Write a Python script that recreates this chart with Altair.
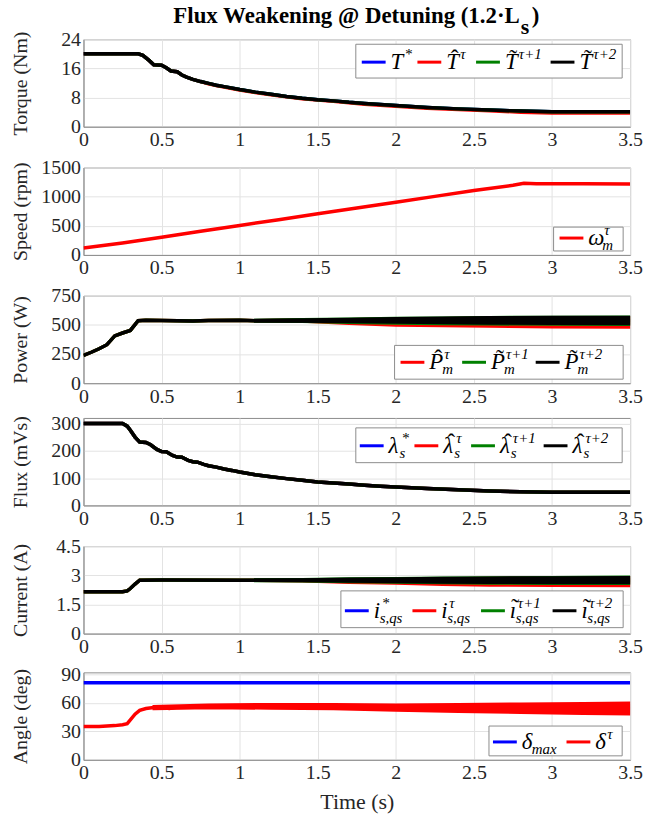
import altair as alt
import pandas as pd

FONT = "Liberation Serif"
W, H = 550, 88
BLUE, RED, GREEN, BLACK = "#0000ff", "#ff0000", "#008000", "#000000"
XTICKS = [0, 0.5, 1, 1.5, 2, 2.5, 3, 3.5]

# ---------------- data ----------------
# Torque (Nm)
tq_t = [0, 0.35, 0.38, 0.42, 0.45, 0.5, 0.53, 0.56, 0.6, 0.63, 0.66, 0.7, 0.75, 0.8, 0.85, 0.9,
        1.0, 1.1, 1.2, 1.3, 1.4, 1.5, 1.6, 1.7, 1.8, 1.9, 2.0, 2.2, 2.4, 2.6, 2.8, 3.0, 3.2, 3.5]
tq_v = [20, 20, 19.6, 18.2, 17, 16.9, 16.2, 15.3, 15.1, 14.2, 13.6, 13.0, 12.4, 11.9, 11.4, 11.0,
        10.2, 9.5, 8.9, 8.3, 7.8, 7.4, 7.1, 6.7, 6.4, 6.1, 5.8, 5.3, 4.9, 4.6, 4.3, 4.1, 4.1, 4.1]
tq_red = [20, 20, 19.6, 18.2, 17, 16.9, 16.2, 15.3, 15.1, 14.2, 13.6, 13.0, 12.4, 11.8, 11.3, 10.9,
          10.1, 9.4, 8.8, 8.2, 7.7, 7.3, 7.0, 6.6, 6.2, 5.9, 5.6, 5.1, 4.7, 4.4, 4.0, 3.8, 3.8, 3.8]

# Speed (rpm)
sp_t = [0, 0.25, 0.5, 0.75, 1.0, 1.25, 1.5, 1.75, 2.0, 2.25, 2.5, 2.75, 2.82, 2.9, 3.2, 3.5]
sp_v = [120, 205, 305, 405, 505, 605, 705, 805, 905, 1005, 1105, 1195, 1230, 1222, 1220, 1218]

# Power (W)
pw_t = [0, 0.05, 0.1, 0.15, 0.2, 0.25, 0.3, 0.35, 0.4, 0.5, 0.7, 0.8, 1.0, 1.1, 1.5, 2.0, 2.5, 3.0, 3.5]
pw_v = [238, 265, 295, 330, 405, 430, 452, 535, 540, 538, 534, 537, 540, 536, 536, 537, 538, 538, 538]
pwb_t = [1.1, 1.4, 1.7, 2.0, 2.3, 2.6, 3.0, 3.5]
pw_red_lo = [532, 528, 510, 495, 490, 485, 480, 478]
pw_red_hi = [540, 545, 548, 552, 556, 560, 562, 565]
pw_grn_lo = [530, 527, 518, 512, 508, 505, 502, 500]
pw_grn_hi = [542, 548, 552, 558, 562, 566, 568, 570]
pw_blk_lo = [531, 529, 524, 520, 516, 512, 510, 508]
pw_blk_hi = [541, 546, 550, 556, 560, 565, 567, 568]

# Flux (mVs)
fx_t = [0, 0.25, 0.28, 0.3, 0.33, 0.36, 0.4, 0.43, 0.47, 0.5, 0.53, 0.57, 0.6, 0.63, 0.67, 0.7,
        0.73, 0.77, 0.8, 0.85, 0.9, 0.95, 1.0, 1.1, 1.2, 1.3, 1.4, 1.5, 1.6, 1.7, 1.8, 1.9, 2.0,
        2.2, 2.4, 2.6, 2.8, 3.0, 3.5]
fx_v = [300, 300, 290, 275, 250, 232, 230, 222, 205, 197, 196, 183, 177, 176, 165, 160,
        158, 150, 145, 140, 133, 128, 122, 112, 105, 98, 92, 86, 82, 78, 74, 70, 67,
        62, 57, 53, 50, 48, 48]

# Current (A)
cu_t = [0, 0.25, 0.28, 0.3, 0.33, 0.36, 0.5, 1.0, 1.5, 2.0, 2.5, 3.0, 3.5]
cu_v = [2.15, 2.15, 2.2, 2.32, 2.55, 2.75, 2.76, 2.75, 2.75, 2.75, 2.75, 2.75, 2.75]
cub_t = [1.1, 1.4, 1.7, 2.0, 2.3, 2.6, 3.0, 3.5]
cu_red_lo = [2.72, 2.70, 2.62, 2.58, 2.52, 2.48, 2.46, 2.45]
cu_red_hi = [2.77, 2.78, 2.80, 2.82, 2.84, 2.86, 2.88, 2.90]
cu_grn_lo = [2.71, 2.70, 2.66, 2.63, 2.60, 2.58, 2.57, 2.56]
cu_grn_hi = [2.78, 2.80, 2.83, 2.85, 2.87, 2.89, 2.90, 2.92]
cu_blk_lo = [2.72, 2.71, 2.68, 2.66, 2.63, 2.62, 2.61, 2.60]
cu_blk_hi = [2.77, 2.79, 2.82, 2.84, 2.86, 2.88, 2.89, 2.90]

# Angle (deg)
an_t = [0, 0.1, 0.2, 0.25, 0.28, 0.3, 0.33, 0.36, 0.4, 0.45, 0.5, 0.55, 0.6, 0.7, 0.8, 0.9,
        1.0, 1.2, 1.5, 2.0, 2.5, 3.0, 3.5]
an_v = [35, 35, 36, 37, 38, 42, 48, 52, 54, 55, 55, 54, 55.5, 56, 57, 56,
        56, 57, 56.5, 55, 54.5, 54, 54]
anb_t = [0.45, 0.8, 1.2, 1.6, 2.0, 2.4, 2.8, 3.2, 3.5]
an_lo = [53.5, 54.5, 54, 53.5, 52, 50.5, 49.5, 48.5, 48]
an_hi = [56.5, 58, 58.5, 58.5, 58, 58.5, 59, 59.5, 60]
delta_max_t = [0, 3.5]
delta_max_v = [81, 81]

AX = dict(labelFont=FONT, labelFontSize=20, labelColor="#262626", labelPadding=3,
          titleFont=FONT, titleFontWeight="normal", titleColor="#262626",
          ticks=False, tickSize=0, domainColor="#8c8c8c", gridColor="#e3e3e3")


# ---------------- helpers ----------------
def xenc(show_title):
    return alt.X("t:Q", scale=alt.Scale(domain=[0, 3.5], nice=False, zero=False),
                 axis=alt.Axis(values=XTICKS, format=".4~g", title="Time (s)" if show_title else None,
                               labelFlush=False, titlePadding=9, titleFontSize=22, **AX))


def yenc(field, title, domain, ticks):
    return alt.Y(f"{field}:Q", scale=alt.Scale(domain=domain, nice=False, zero=False),
                 axis=alt.Axis(values=ticks, format=".4~g", title=title, titleX=-63, titleY=H / 2,
                               titleFontSize=20, titleAlign="center", titleBaseline="middle", **AX))


def line(t, v, color, ytitle, dom, ticks, xt, width=3.5):
    df = pd.DataFrame({"t": t, "v": v})
    return alt.Chart(df).mark_line(color=color, strokeWidth=width, clip=True).encode(
        x=xenc(xt), y=yenc("v", ytitle, dom, ticks))


def band(t, lo, hi, color, ytitle, dom, ticks, xt):
    df = pd.DataFrame({"t": t, "lo": lo, "hi": hi})
    return alt.Chart(df).mark_area(color=color, opacity=1, stroke=color, strokeWidth=2.5, clip=True).encode(
        x=xenc(xt), y=yenc("lo", ytitle, dom, ticks), y2="hi:Q")


ONE = pd.DataFrame({"a": [0]})


def txt(s, x, y, size, italic=True, bold=False, align="left", color="#000000"):
    kw = dict(align=align, baseline="alphabetic", font=FONT, fontSize=size, color=color)
    if italic:
        kw["fontStyle"] = "italic"
    if bold:
        kw["fontWeight"] = "bold"
    return alt.Chart(ONE).mark_text(**kw).encode(x=alt.value(x), y=alt.value(y), text=alt.value(s))


ACC = {"hat": "\u02c6", "tilde": "\u02dc"}


def legend(box, ly, items):
    x0, y0, x1, y1 = box
    layers = [alt.Chart(ONE).mark_rect(fill="white", stroke="#8c8c8c", strokeWidth=1).encode(
        x=alt.value(x0), x2=alt.value(x1), y=alt.value(y0), y2=alt.value(y1))]
    for color, lx, base, bw, acc, sup, sub in items:
        layers.append(alt.Chart(ONE).mark_rule(color=color, strokeWidth=3).encode(
            x=alt.value(lx), x2=alt.value(lx + 24), y=alt.value(ly)))
        tx = lx + 29
        layers.append(txt(base, tx, ly + 7, 23))
        if acc:
            layers.append(txt(ACC[acc], tx + bw / 2 + 2, ly + 4, 24, italic=False, align="center"))
        if sup:
            layers.append(txt(sup, tx + bw + 1, ly - 3, 15))
        if sub:
            layers.append(txt(sub, tx + bw - 1, ly + 12, 15))
    return layers


# ---------------- panels ----------------
# Torque
d = ("Torque (Nm)", [0, 24], [0, 8, 16, 24], False)
torque = alt.layer(
    line(tq_t, tq_v, BLUE, *d),
    line(tq_t, tq_red, RED, *d),
    line(tq_t, tq_v, GREEN, *d),
    line(tq_t, tq_v, BLACK, *d),
    *legend((274, 5, 542, 39), 23, [
        (BLUE, 280, "T", 13, None, "*", None),
        (RED, 336, "T", 13, "hat", "\u03c4", None),
        (GREEN, 395, "T", 13, "tilde", "\u03c4+1", None),
        (BLACK, 470, "T", 13, "tilde", "\u03c4+2", None),
    ]),
    txt("Flux Weakening @ Detuning (1.2\u00b7L", 439, -16, 23, italic=False, bold=True, align="right"),
    txt("s", 440, -5, 22, italic=False, bold=True),
    txt(")", 451, -16, 23, italic=False, bold=True),
).properties(width=W, height=H)

# Speed
d = ("Speed (rpm)", [0, 1500], [0, 500, 1000, 1500], False)
speed = alt.layer(
    line(sp_t, sp_v, RED, *d),
    *legend((473, 60, 543, 84), 71, [
        (RED, 479, "\u03c9", 15, None, "\u03c4", "m"),
    ]),
).properties(width=W, height=H)

# Power
d = ("Power (W)", [0, 750], [0, 250, 500, 750], False)
power = alt.layer(
    line(pw_t, pw_v, RED, *d),
    band(pwb_t, pw_red_lo, pw_red_hi, RED, *d),
    line(pw_t, pw_v, GREEN, *d),
    band(pwb_t, pw_grn_lo, pw_grn_hi, GREEN, *d),
    line(pw_t, pw_v, BLACK, *d),
    band(pwb_t, pw_blk_lo, pw_blk_hi, BLACK, *d),
    *legend((313, 50, 543, 84), 67, [
        (RED, 319, "P", 14, "hat", "\u03c4", "m"),
        (GREEN, 381, "P", 14, "tilde", "\u03c4+1", "m"),
        (BLACK, 455, "P", 14, "tilde", "\u03c4+2", "m"),
    ]),
).properties(width=W, height=H)

# Flux
d = ("Flux (mVs)", [0, 320], [0, 100, 200, 300], False)
flux = alt.layer(
    line(fx_t, fx_v, BLUE, *d),
    line(fx_t, fx_v, RED, *d),
    line(fx_t, fx_v, GREEN, *d),
    line(fx_t, fx_v, BLACK, *d),
    *legend((274, 10, 542, 45), 28, [
        (BLUE, 278, "\u03bb", 12, None, "*", "s"),
        (RED, 333, "\u03bb", 12, "hat", "\u03c4", "s"),
        (GREEN, 390, "\u03bb", 12, "hat", "\u03c4+1", "s"),
        (BLACK, 463, "\u03bb", 12, "hat", "\u03c4+2", "s"),
    ]),
).properties(width=W, height=H)

# Current
d = ("Current (A)", [0, 4.5], [0, 1.5, 3, 4.5], False)
current = alt.layer(
    line(cu_t, cu_v, RED, *d),
    band(cub_t, cu_red_lo, cu_red_hi, RED, *d),
    line(cu_t, cu_v, GREEN, *d),
    band(cub_t, cu_grn_lo, cu_grn_hi, GREEN, *d),
    line(cu_t, cu_v, BLACK, *d),
    band(cub_t, cu_blk_lo, cu_blk_hi, BLACK, *d),
    *legend((259, 45, 543, 82), 65, [
        (BLUE, 263, "i", 7, None, "*", "s,qs"),
        (RED, 331, "i", 7, None, "\u03c4", "s,qs"),
        (GREEN, 400, "\u0131", 7, "tilde", "\u03c4+1", "s,qs"),
        (BLACK, 472, "\u0131", 7, "tilde", "\u03c4+2", "s,qs"),
    ]),
).properties(width=W, height=H)

# Angle
d = ("Angle (deg)", [0, 92], [0, 30, 60, 90], True)
angle = alt.layer(
    line(delta_max_t, delta_max_v, BLUE, *d),
    line(an_t, an_v, RED, *d),
    band(anb_t, an_lo, an_hi, RED, *d),
    *legend((408, 54, 542, 84), 70, [
        (BLUE, 412, "\u03b4", 11, None, None, "max"),
        (RED, 486, "\u03b4", 11, None, "\u03c4", None),
    ]),
).properties(width=W, height=H)

chart = alt.vconcat(torque, speed, power, flux, current, angle, spacing=6).properties(
    padding={"left": 10, "top": 2, "right": 5, "bottom": 2}
).configure_view(stroke="#8c8c8c", strokeWidth=1)

chart.save("out.html", embed_options={"renderer": "svg", "actions": False})
